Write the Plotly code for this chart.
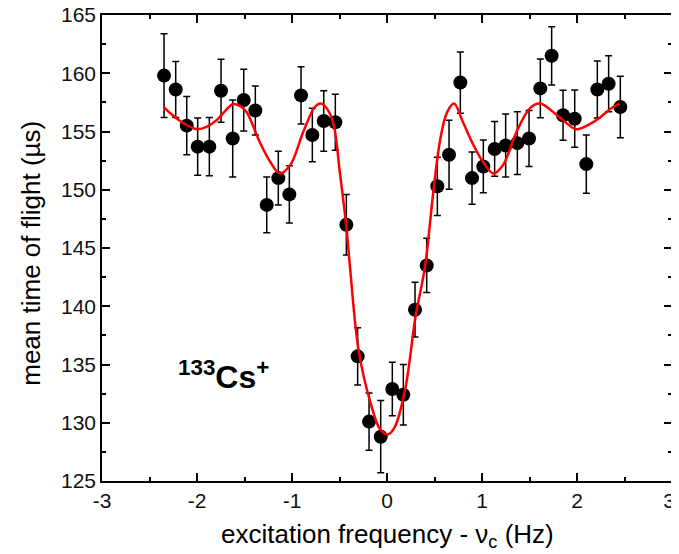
import plotly.graph_objects as go

# measured data
freq = [-2.347, -2.224, -2.108, -1.993, -1.870, -1.747, -1.624, -1.508, -1.386, -1.266,
        -1.144, -1.028, -0.905, -0.786, -0.666, -0.544, -0.428, -0.309, -0.189, -0.066,
        0.056, 0.172, 0.295, 0.418, 0.530, 0.653, 0.772, 0.895, 1.014, 1.133,
        1.249, 1.372, 1.495, 1.614, 1.733, 1.853, 1.976, 2.098, 2.214, 2.333, 2.456]
tof = [159.8, 158.6, 155.5, 153.7, 153.7, 158.5, 154.4, 157.7, 156.8, 148.7,
       151.0, 149.6, 158.1, 154.7, 155.9, 155.8, 147.0, 135.7, 130.1, 128.8,
       132.9, 132.4, 139.7, 143.5, 150.3, 153.0, 159.2, 151.0, 152.0, 153.5,
       153.8, 154.0, 154.4, 158.7, 161.5, 156.4, 156.1, 152.2, 158.6, 159.1, 157.1]
tof_err = [3.6, 2.4, 2.5, 2.45, 2.5, 2.7, 3.3, 2.65, 2.1, 2.4,
           2.3, 2.45, 2.45, 2.3, 2.6, 2.4, 2.6, 2.45, 2.45, 3.1,
           2.3, 2.6, 2.35, 2.33, 2.5, 2.96, 2.63, 2.25, 2.26, 2.35,
           2.7, 2.7, 2.4, 2.53, 2.5, 2.15, 2.46, 2.5, 2.45, 2.4, 2.64]

# fitted line shape
fit_x = [-2.35, -2.25, -2.14, -2.0, -1.9, -1.79, -1.7, -1.62, -1.55, -1.48,
         -1.34, -1.23, -1.13, -1.02, -0.88, -0.76, -0.70, -0.635, -0.565, -0.495,
         -0.424, -0.39, -0.30, -0.18, -0.07, 0.01, 0.08, 0.19, 0.30, 0.40,
         0.49, 0.56, 0.63, 0.705, 0.80, 0.90, 1.01, 1.12, 1.22, 1.365,
         1.505, 1.61, 1.79, 1.96, 2.01, 2.17, 2.38, 2.45]
fit_y = [157.1, 156.35, 155.7, 155.2, 155.4, 156.0, 156.8, 157.36, 157.2, 156.7,
         154.1, 152.4, 151.4, 152.1, 155.0, 157.1, 157.4, 157.0, 155.7, 151.4,
         146.5, 143.4, 136.3, 131.9, 129.4, 129.0, 129.6, 132.8, 139.1, 143.4,
         150.0, 154.3, 156.6, 157.4, 155.8, 154.0, 152.4, 151.4, 152.1, 155.0,
         157.0, 157.4, 156.4, 155.3, 155.2, 155.8, 157.1, 157.4]

x_ticks = [-3, -2, -1, 0, 1, 2, 3]
x_ticktext = ["-3", "-2", "-1", "0", "1", "2", "3&nbsp;"]
y_ticks = [125, 130, 135, 140, 145, 150, 155, 160, 165]
y_ticktext = ["125", "130", "135", "140", "145", "150", "155", "160", "165"]

x_title = "excitation frequency - ν<sub>c</sub> (Hz)"
y_title = "mean time of flight (µs)"
label = "<b><sup>133</sup>Cs<sup>+</sup></b>"

FONT = "Liberation Sans, Arial"

fig = go.Figure()
fig.add_trace(go.Scatter(
    x=freq, y=tof, mode="markers",
    marker=dict(color="black", size=14),
    error_y=dict(type="data", array=tof_err, color="black", thickness=1.5, width=3.5),
    showlegend=False,
))
fig.add_trace(go.Scatter(
    x=fit_x, y=fit_y, mode="lines",
    line=dict(color="#ff0000", width=2.5, shape="spline", smoothing=1.0),
    showlegend=False,
))

fig.add_annotation(
    x=-1.72, y=134.1, xref="x", yref="y", text=label,
    showarrow=False, font=dict(family=FONT, size=32, color="black"),
)
# axis titles as annotations for exact placement
fig.add_annotation(
    x=0.5, y=-0.117, xref="paper", yref="paper", text=x_title,
    xanchor="center", yanchor="middle", showarrow=False,
    font=dict(family=FONT, size=26, color="black"),
)
fig.add_annotation(
    x=-0.126, y=0.488, xref="paper", yref="paper", text=y_title, textangle=-90,
    xanchor="center", yanchor="middle", showarrow=False,
    font=dict(family=FONT, size=26, color="black"),
)

axis_common = dict(
    showline=True, linecolor="black", linewidth=1.5, mirror="ticks",
    ticks="inside", ticklen=8, tickwidth=1.5, tickcolor="black",
    showgrid=False, zeroline=False, automargin=False,
    ticklabeloverflow="allow",
    tickfont=dict(family=FONT, size=21, color="#111111"),
)

fig.update_xaxes(
    range=[-3, 3], tickvals=x_ticks, ticktext=x_ticktext,
    minor=dict(dtick=0.5, tick0=0, ticks="inside", ticklen=4, tickwidth=1.5, tickcolor="black"),
    **axis_common,
)
fig.update_yaxes(
    range=[125, 165], tickvals=y_ticks, ticktext=y_ticktext,
    minor=dict(dtick=2.5, tick0=125, ticks="inside", ticklen=4, tickwidth=1.5, tickcolor="black"),
    **axis_common,
)

# page body has an 8px margin; shrink figure so the plot area lands where the reference has it
fig.update_layout(
    width=671, height=546,
    margin=dict(l=94, r=7, t=7, b=73),
    plot_bgcolor="white", paper_bgcolor="white",
)

fig.write_html("out.html")
